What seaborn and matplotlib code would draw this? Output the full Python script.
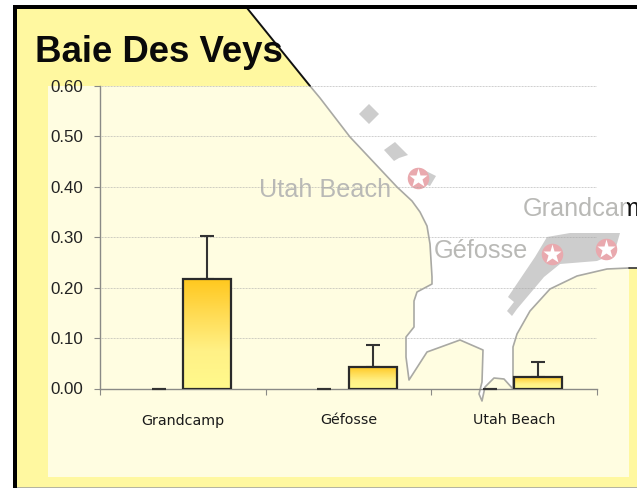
import numpy as np
import pandas as pd
import matplotlib
matplotlib.use("Agg")
import matplotlib.pyplot as plt
from matplotlib.colors import LinearSegmentedColormap
from matplotlib.patches import Polygon, Rectangle
import seaborn as sns

# ---- chart data ----
sites = ["Grandcamp", "Géfosse", "Utah Beach"]
series_a_values = [0.0, 0.0, 0.0]
series_a_errors = [0.0, 0.0, 0.0]
series_b_values = [0.218, 0.042, 0.023]
series_b_errors = [0.085, 0.044, 0.030]
y_ticks = [0.0, 0.1, 0.2, 0.3, 0.4, 0.5, 0.6]

W, H = 637, 488
sns.set_theme(style="white")
plt.rcParams["font.family"] = ["Liberation Sans", "DejaVu Sans"]
fig = plt.figure(figsize=(W / 100, H / 100), dpi=100, facecolor="white")


def draw_backdrop():
    """Map slide behind the chart, laid out in image pixels."""
    bg = fig.add_axes([0, 0, 1, 1], zorder=0)
    bg.set_xlim(0, W)
    bg.set_ylim(H, 0)
    bg.axis("off")
    yellow, cream, grey = "#FFF8A0", "#FFFDE1", "#A9A9A4"
    bg.add_patch(Rectangle((15, 7), W, H, fc=yellow, ec="none", zorder=1))
    bg.add_patch(Rectangle((48, 86), 581, 391, fc=cream, ec="none", zorder=2))
    coast = [(247, 8), (310, 86), (320, 98), (350, 137), (397, 187), (412, 201), (420, 212), (427, 226),
             (430, 244), (432, 277), (432, 284), (417, 292), (414, 301), (414, 327),
             (406, 337), (406, 357), (409, 380), (427, 352), (460, 340), (483, 350),
             (482, 382), (479, 394), (482, 401), (485, 387), (494, 378), (504, 379),
             (513, 389), (513, 347), (517, 334), (530, 311), (550, 289), (577, 276),
             (607, 269), (629, 268), (637, 268)]
    bg.add_patch(Polygon(coast + [(637, 8)], closed=True, fc="white", ec="none", zorder=3))
    bg.plot(*zip(*coast[1:-1]), color=grey, lw=1.2, zorder=4)
    bg.plot(*zip(*coast[:2]), color="#111111", lw=1.4, zorder=4)
    bg.plot(*zip(*coast[-2:]), color="#333333", lw=1.2, zorder=4)
    bldg = "#CDCDCD"
    shapes = [
        [(369, 104), (379, 114), (369, 124), (359, 114)],
        [(395, 142), (408, 155), (399, 158), (394, 161), (384, 150)],
        [(424, 170), (436, 176), (430, 186), (420, 182)],
        [(508, 297), (535, 257), (547, 237), (570, 233), (620, 233), (614, 254), (597, 261),
         (560, 264), (544, 277), (517, 309), (512, 316), (507, 311), (514, 302)],
    ]
    for s in shapes:
        bg.add_patch(Polygon(s, closed=True, fc=bldg, ec="none", zorder=5))
    for x, y in [(418, 178), (552, 254), (606, 249)]:
        bg.plot([x], [y], "o", ms=15.5, mfc="#E9A9AE", mec="none", zorder=6)
        bg.plot([x], [y], "*", ms=14, mfc="white", mec="none", zorder=7)
    label = dict(color="#B9B9B6", fontsize=18.2, zorder=8, va="baseline")
    bg.text(259, 197, "Utah Beach", **label)
    bg.text(434, 258, "Géfosse", **label)
    t1 = bg.text(523, 216, "Grandcamp", clip_on=True, **label)
    t1.set_clip_path(Rectangle((0, 0), 627, H, transform=bg.transData))
    t2 = bg.text(523, 216, "Grandcamp", clip_on=True, **{**label, "color": "#111111"})
    t2.set_clip_path(Rectangle((627, 0), 20, H, transform=bg.transData))
    bg.add_patch(Rectangle((13, 5), 4, H, fc="black", ec="none", zorder=9))
    bg.add_patch(Rectangle((13, 5), W, 4, fc="black", ec="none", zorder=9))
    bg.add_patch(Rectangle((17, 486.5), W, 2, fc="#B5B5A0", ec="none", zorder=9))
    bg.text(35, 62, "Baie Des Veys", fontsize=26.4, fontweight="bold", color="#0A0A0A",
            va="baseline", ha="left", zorder=10)


draw_backdrop()

# ---- chart ----
ax = fig.add_axes([100 / W, 1 - 388.5 / H, 497 / W, 302.5 / H], zorder=2)
ax.patch.set_alpha(0)

df = pd.DataFrame({
    "site": sites * 2,
    "series": ["a"] * len(sites) + ["b"] * len(sites),
    "value": series_a_values + series_b_values,
    "err": series_a_errors + series_b_errors,
})
sns.barplot(data=df, x="site", y="value", hue="series", order=sites, hue_order=["a", "b"],
            width=0.58, errorbar=None, legend=False, palette=["#FFD22A", "#FFD22A"],
            ax=ax, zorder=3)

ax.set_xlim(-0.5, 2.5)
ax.set_ylim(0, 0.6)
ax.set_yticks(y_ticks, [f"{v:.2f}" for v in y_ticks])
ax.set_xlabel("")
ax.set_ylabel("")
ax.set_xticks([-0.5, 0.5, 1.5, 2.5], minor=False, labels=[])
ax.set_xticks([0, 1, 2], sites, minor=True)

ax.grid(axis="y", color="#A6A6A6", lw=0.6, ls=(0, (1, 0.8)), alpha=0.75, zorder=1)
ax.set_axisbelow(True)
for side in ["top", "right"]:
    ax.spines[side].set_visible(False)
for side in ["left", "bottom"]:
    ax.spines[side].set_color("#8A8A86")
    ax.spines[side].set_linewidth(1.0)
ax.tick_params(axis="y", which="major", left=True, length=4.3, width=0.8, color="#8A8A86",
               pad=8, labelsize=12.2, labelcolor="#222222")
ax.tick_params(axis="x", which="major", bottom=True, length=4, width=0.8, color="#8A8A86")
ax.tick_params(axis="x", which="minor", bottom=False, length=0, pad=18, labelsize=10.3,
               labelcolor="#1A1A1A")
for lab in ax.get_xticklabels(minor=True):
    lab.set_family("DejaVu Sans")

# vertical gradient fill and upper-only error whiskers, taken from the drawn bars
cmap = LinearSegmentedColormap.from_list("bar", ["#FFC81E", "#FFDC55", "#FFF186", "#FFF98C"])
grad = np.linspace(0, 1, 64).reshape(-1, 1)
errs = df["err"].to_numpy()
for patch, err in zip(ax.patches, errs):
    x0, w, h = patch.get_x(), patch.get_width(), patch.get_height()
    cx = x0 + w / 2
    ax.errorbar(cx, h, yerr=[[0], [err]], color="#333333", lw=1.5, capsize=5, capthick=1.5,
                zorder=4, clip_on=False)
    if h > 0:
        im = ax.imshow(grad, extent=[x0, x0 + w, 0, h], origin="upper", cmap=cmap,
                       aspect="auto", zorder=5, interpolation="bilinear")
        patch.set(facecolor="none", edgecolor="#2A2A2A", linewidth=1.6, zorder=6)
    else:
        patch.set(facecolor="none", edgecolor="none", linewidth=0)

ax.set_xlim(-0.5, 2.5)
ax.set_ylim(0, 0.6)
fig.savefig("out.png", dpi=100, facecolor="white")
